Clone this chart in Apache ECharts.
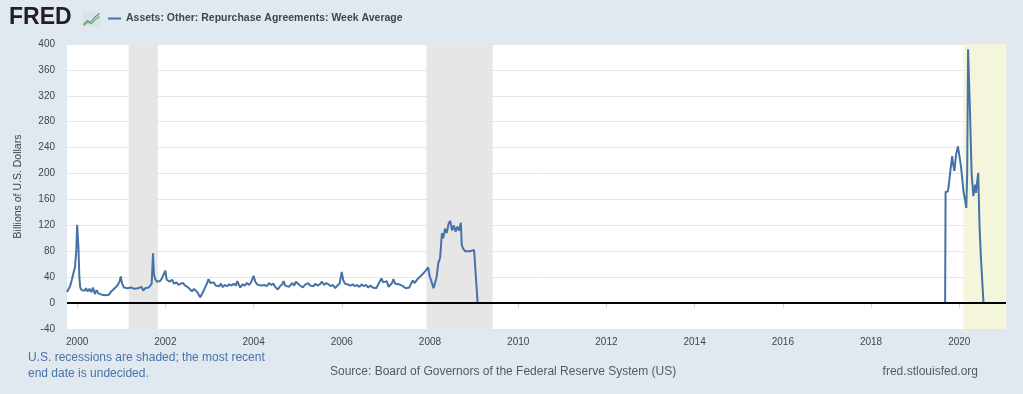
<!DOCTYPE html>
<html>
<head>
<meta charset="utf-8">
<script src="https://cdn.jsdelivr.net/npm/echarts@6/dist/echarts.min.js"></script>
<style>
html,body{margin:0;padding:0;background:#e1e9f0;}
#chart{width:1023px;height:394px;}
</style>
</head>
<body>
<div id="chart"></div>
<script>
// Dates as decimal years, values in billions of U.S. dollars
const dates = [
1999.77,1999.80,1999.84,1999.88,1999.91,1999.95,1999.98,2000.00,2000.03,2000.05,
2000.07,2000.10,2000.13,2000.17,2000.20,2000.24,2000.28,2000.32,2000.36,2000.40,
2000.44,2000.48,2000.52,2000.56,2000.60,2000.64,2000.68,2000.72,2000.76,2000.80,
2000.84,2000.88,2000.92,2000.96,2000.99,2001.02,2001.06,2001.10,2001.14,2001.18,
2001.22,2001.26,2001.30,2001.34,2001.38,2001.42,2001.46,2001.50,2001.54,2001.58,
2001.62,2001.66,2001.69,2001.72,2001.74,2001.77,2001.81,2001.85,2001.88,2001.92,
2001.96,2002.00,2002.03,2002.05,2002.10,2002.15,2002.20,2002.25,2002.30,2002.35,
2002.40,2002.45,2002.50,2002.55,2002.60,2002.65,2002.68,2002.72,2002.76,2002.79,
2002.83,2002.86,2002.90,2002.94,2002.98,2003.02,2003.06,2003.10,2003.14,2003.18,
2003.22,2003.26,2003.30,2003.35,2003.40,2003.45,2003.50,2003.55,2003.60,2003.63,
2003.67,2003.70,2003.75,2003.80,2003.85,2003.90,2003.95,2004.00,2004.04,2004.08,
2004.12,2004.16,2004.20,2004.25,2004.30,2004.35,2004.40,2004.45,2004.50,2004.55,
2004.60,2004.65,2004.68,2004.72,2004.76,2004.80,2004.84,2004.88,2004.92,2004.96,
2005.00,2005.04,2005.08,2005.12,2005.16,2005.20,2005.24,2005.28,2005.32,2005.36,
2005.40,2005.45,2005.50,2005.55,2005.60,2005.65,2005.70,2005.75,2005.80,2005.85,
2005.90,2005.95,2006.00,2006.03,2006.07,2006.12,2006.16,2006.20,2006.25,2006.30,
2006.35,2006.40,2006.45,2006.50,2006.55,2006.60,2006.65,2006.70,2006.74,2006.78,
2006.82,2006.86,2006.90,2006.94,2006.98,2007.02,2007.06,2007.10,2007.14,2007.17,
2007.21,2007.25,2007.29,2007.33,2007.37,2007.41,2007.45,2007.49,2007.53,2007.57,
2007.61,2007.65,2007.69,2007.73,2007.77,2007.81,2007.85,2007.89,2007.93,2007.96,
2007.99,2008.04,2008.08,2008.12,2008.15,2008.19,2008.23,2008.27,2008.30,2008.34,
2008.38,2008.42,2008.46,2008.50,2008.54,2008.58,2008.62,2008.66,2008.70,2008.72,
2008.75,2008.80,2008.90,2009.00,2009.08,2019.68,2019.69,2019.74,2019.76,2019.80,
2019.84,2019.86,2019.89,2019.93,2019.97,2020.00,2020.04,2020.07,2020.10,2020.13,
2020.16,2020.18,2020.20,2020.21,2020.24,2020.28,2020.32,2020.34,2020.36,2020.38,
2020.41,2020.43,2020.46,2020.49,2020.55,2020.75
];
const values = [
17,20,26,36,45,55,80,121,85,40,
24,20,22,19,23,18,22,17,24,14,
20,15,18,13,16,12,15,13,17,15,
22,25,28,33,41,30,24,21,23,20,
24,21,22,19,23,20,25,19,23,22,
24,26,30,77,45,37,33,36,34,38,
40,50,36,35,33,36,30,32,28,30,
31,27,25,22,18,22,23,17,14,9,
14,18,24,30,37,31,29,32,27,29,
26,30,25,28,26,29,27,30,27,34,
28,24,29,27,31,28,33,42,33,29,
32,27,24,28,26,31,28,30,24,21,
26,29,34,27,30,25,28,31,27,33,
35,28,30,24,28,26,31,27,29,26,
30,27,29,33,28,31,29,26,28,23,
27,30,48,36,30,29,31,27,29,26,
28,25,29,26,28,24,27,24,21,23,
28,31,38,32,30,34,25,28,31,37,
30,33,29,31,27,25,23,21,24,30,
35,31,34,38,40,43,46,49,52,55,
42,32,23,25,40,62,70,108,100,115,
108,122,127,112,120,110,118,112,124,90,
84,80,80,82,0,0,172,172,180,205,
227,215,204,230,242,243,211,190,170,160,
147,200,392,390,304,201,165,175,183,170,
190,201,118,72,0,0
];
const recessionStart = [2001.17, 2007.92, 2020.09];
const recessionEnd = [2001.83, 2009.42, 2021.06];
const recessionColor = ['#e6e6e6', '#e6e6e6', '#f5f5dc'];
const xTickLabels = [2000,2002,2004,2006,2008,2010,2012,2014,2016,2018,2020];
const seriesName = 'Assets: Other: Repurchase Agreements: Week Average';

const seriesData = dates.map((d, i) => [d, values[i]]);
const areas = recessionStart.map((s, i) => [
  {xAxis: s, itemStyle: {color: recessionColor[i]}},
  {xAxis: recessionEnd[i]}
]);

const chart = echarts.init(document.getElementById('chart'));
chart.setOption({
  backgroundColor: '#e1e9f0',
  animation: false,
  textStyle: {fontFamily: '"Liberation Sans", Arial, sans-serif'},
  legend: {
    left: 108, top: 13, padding: 0,
    icon: 'rect', itemWidth: 13, itemHeight: 2, itemGap: 5,
    textStyle: {fontSize: 10.5, fontWeight: 'bold', color: '#444'},
    data: [seriesName]
  },
  grid: {
    left: 67, right: 17, top: 44, bottom: 65,
    show: true, backgroundColor: '#ffffff', borderWidth: 0
  },
  xAxis: {
    type: 'value',
    min: 1999.77, max: 2021.06,
    axisLine: {show: false},
    splitLine: {show: false},
    axisTick: {show: true, length: 5, lineStyle: {color: '#ccd6eb'}, customValues: xTickLabels},
    axisLabel: {
      customValues: xTickLabels,
      formatter: v => String(Math.round(v)),
      fontSize: 10, color: '#444', margin: 8
    }
  },
  yAxis: {
    type: 'value',
    min: -40, max: 400, interval: 40,
    name: 'Billions of U.S. Dollars',
    nameLocation: 'middle', nameRotate: 90, nameGap: 43,
    nameTextStyle: {fontSize: 10.5, color: '#444'},
    axisLine: {show: false}, axisTick: {show: false},
    axisLabel: {fontSize: 10, color: '#444', margin: 12},
    splitLine: {lineStyle: {color: '#e6e6e6', width: 1}}
  },
  series: [{
    name: seriesName,
    type: 'line',
    data: seriesData,
    showSymbol: false,
    symbol: 'none',
    lineStyle: {color: '#4572a7', width: 2},
    itemStyle: {color: '#4572a7'},
    markArea: {silent: true, data: areas},
    markLine: {
      silent: true, symbol: 'none', label: {show: false},
      lineStyle: {color: '#000', width: 2, type: 'solid'},
      data: [{yAxis: 0}]
    }
  }],
  graphic: [
    {type: 'text', left: 9, top: 6, style: {text: 'FRED', fontSize: 23, fontWeight: 900, fill: '#231f20', fontFamily: '"Liberation Sans", Arial, sans-serif'}},
    {type: 'group', left: 81, top: 11, children: [
      {type: 'rect', shape: {x: 0, y: 0, width: 18, height: 15}, style: {fill: '#d8e2ea'}},
      {type: 'polyline', shape: {points: [[1,13],[5,9],[8,11],[12,6],[17,2]]}, style: {stroke: '#5b8fc7', lineWidth: 1.2, fill: null}},
      {type: 'polyline', shape: {points: [[1,14],[5,11],[9,12],[13,8],[17,5]]}, style: {stroke: '#7ab648', lineWidth: 1.2, fill: null}}
    ]},
    {type: 'text', left: 28, top: 350, style: {text: 'U.S. recessions are shaded; the most recent\nend date is undecided.', fontSize: 12, lineHeight: 16, fill: '#4a72a6', fontFamily: '"Liberation Sans", Arial, sans-serif'}},
    {type: 'text', left: 330, top: 366, style: {text: 'Source: Board of Governors of the Federal Reserve System (US)', fontSize: 12, fill: '#595959', fontFamily: '"Liberation Sans", Arial, sans-serif'}},
    {type: 'text', right: 45, top: 366, style: {text: 'fred.stlouisfed.org', fontSize: 12, fill: '#595959', fontFamily: '"Liberation Sans", Arial, sans-serif'}}
  ]
});
</script>
</body>
</html>
